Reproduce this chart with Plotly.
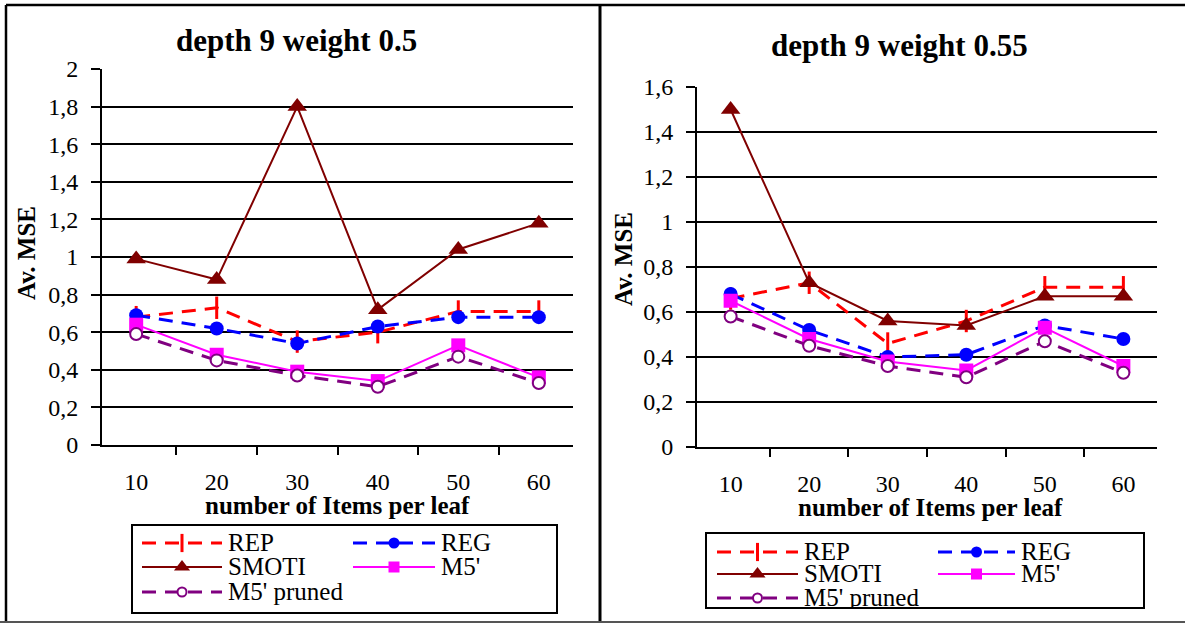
import plotly.graph_objects as go

# Number of items per leaf (x categories)
items = [10, 20, 30, 40, 50, 60]
x_labels = [str(v) for v in items]

series_names = ["REP", "REG", "SMOTI", "M5'", "M5' pruned"]

# depth 9, weight 0.5
rep_050 = [0.68, 0.73, 0.55, 0.60, 0.71, 0.71]
reg_050 = [0.69, 0.62, 0.54, 0.63, 0.68, 0.68]
smoti_050 = [0.99, 0.88, 1.80, 0.72, 1.04, 1.18]
m5_050 = [0.64, 0.48, 0.39, 0.34, 0.53, 0.36]
m5p_050 = [0.59, 0.45, 0.37, 0.31, 0.47, 0.33]

# depth 9, weight 0.55
rep_055 = [0.66, 0.73, 0.46, 0.56, 0.71, 0.71]
reg_055 = [0.68, 0.52, 0.40, 0.41, 0.54, 0.48]
smoti_055 = [1.50, 0.73, 0.56, 0.54, 0.67, 0.67]
m5_055 = [0.65, 0.48, 0.38, 0.34, 0.53, 0.36]
m5p_055 = [0.58, 0.45, 0.36, 0.31, 0.47, 0.33]

panel_titles = ["depth 9 weight 0.5", "depth 9 weight 0.55"]
x_title = "number of Items per leaf"
y_title = "Av. MSE"

W, H = 1185, 623
SERIF = "Liberation Serif, Times New Roman, serif"


def px(x):
    return x / W


def py(y):
    return 1 - y / H


STYLES = {
    "REP": dict(line=dict(color="#FF0000", width=3, dash="14px,9px"),
                marker=dict(symbol="line-ns", size=16, color="#FF0000",
                            line=dict(color="#FF0000", width=3))),
    "REG": dict(line=dict(color="#0000FF", width=3, dash="14px,9px"),
                marker=dict(symbol="circle", size=14, color="#0000FF",
                            line=dict(width=0))),
    "SMOTI": dict(line=dict(color="#800000", width=2),
                  marker=dict(symbol="triangle-up", size=17, color="#800000",
                              line=dict(width=0))),
    "M5'": dict(line=dict(color="#FF00FF", width=2),
                marker=dict(symbol="square", size=14, color="#FF00FF",
                            line=dict(width=0))),
    "M5' pruned": dict(line=dict(color="#800080", width=3, dash="14px,9px"),
                       marker=dict(symbol="circle", size=12, color="white",
                                   line=dict(color="#800080", width=2))),
}

panels = [
    dict(data=[rep_050, reg_050, smoti_050, m5_050, m5p_050],
         x=(102, 573), y=(445, 69), yrange=[0, 2],
         title_xy=(296, 41), ytitle_xy=(27, 253), xtitle_xy=(337, 506),
         legend=dict(box=(132, 557, 525, 613), rows=(543, 567, 592),
                     cols=((142, 222), (353, 435)))),
    dict(data=[rep_055, reg_055, smoti_055, m5_055, m5p_055],
         x=(697, 1157), y=(447, 87), yrange=[0, 1.6],
         title_xy=(899, 45), ytitle_xy=(623, 259), xtitle_xy=(930, 507),
         legend=dict(box=(706, 1144, 533, 608), rows=(552, 574, 598),
                     cols=((717, 798), (938, 1015)))),
]

fig = go.Figure()
annotations = []
shapes = []
layout_axes = {}

for i, p in enumerate(panels):
    xa = "x" if i == 0 else f"x{i + 1}"
    ya = "y" if i == 0 else f"y{i + 1}"
    for name, vals in zip(series_names, p["data"]):
        st = STYLES[name]
        fig.add_trace(go.Scatter(
            x=x_labels, y=vals, name=name, mode="lines+markers",
            line=st["line"], marker=st["marker"], showlegend=False,
            xaxis=xa, yaxis=ya, cliponaxis=False))

    xkey = "xaxis" if i == 0 else f"xaxis{i + 1}"
    ykey = "yaxis" if i == 0 else f"yaxis{i + 1}"
    layout_axes[xkey] = dict(
        domain=[px(p["x"][0]), px(p["x"][1])], anchor=ya,
        type="category", tickson="boundaries", ticks="outside",
        ticklen=8, tickwidth=2, tickcolor="black",
        showline=True, linecolor="black", linewidth=2,
        showgrid=False, zeroline=False, automargin=False,
        tickfont=dict(family=SERIF, size=24, color="black"),
        ticklabelstandoff=14, fixedrange=True)
    layout_axes[ykey] = dict(
        domain=[py(p["y"][0]), py(p["y"][1])], anchor=xa,
        range=p["yrange"], tick0=0, dtick=0.2,
        showgrid=True, gridcolor="black", gridwidth=2,
        ticks="outside", ticklen=9, tickwidth=2, tickcolor="black",
        showline=True, linecolor="black", linewidth=2, zeroline=False,
        automargin=False,
        tickfont=dict(family=SERIF, size=24, color="black"),
        ticklabelstandoff=8, fixedrange=True)

    annotations.append(dict(
        text=f"<b>{panel_titles[i]}</b>", xref="paper", yref="paper",
        x=px(p["title_xy"][0]), y=py(p["title_xy"][1]),
        xanchor="center", yanchor="middle", showarrow=False,
        font=dict(family=SERIF, size=31, color="black")))
    annotations.append(dict(
        text=f"<b>{y_title}</b>", xref="paper", yref="paper",
        x=px(p["ytitle_xy"][0]), y=py(p["ytitle_xy"][1]), textangle=-90,
        xanchor="center", yanchor="middle", showarrow=False,
        font=dict(family=SERIF, size=25, color="black")))
    annotations.append(dict(
        text=f"<b>{x_title}</b>", xref="paper", yref="paper",
        x=px(p["xtitle_xy"][0]), y=py(p["xtitle_xy"][1]),
        xanchor="center", yanchor="middle", showarrow=False,
        font=dict(family=SERIF, size=25, color="black")))

    # Legend key drawn on its own hidden axis pair, in pixel units;
    # its labels are clipped to the legend frame.
    lg = p["legend"]
    lx = f"x{i + 3}"
    ly = f"y{i + 3}"
    x0, x1, y0, y1 = lg["box"]
    layout_axes[f"xaxis{i + 3}"] = dict(
        domain=[px(x0), px(x1)], range=[x0, x1], anchor=ly, visible=False,
        automargin=False, fixedrange=True)
    layout_axes[f"yaxis{i + 3}"] = dict(
        domain=[py(y1), py(y0)], range=[y1, y0], anchor=lx, visible=False,
        automargin=False, fixedrange=True)
    slots = [(0, 0), (0, 1), (1, 0), (1, 1), (2, 0)]
    for name, (r, c) in zip(series_names, slots):
        st = STYLES[name]
        sx0, sx1 = lg["cols"][c]
        yy = lg["rows"][r]
        fig.add_trace(go.Scatter(
            x=[sx0, sx1], y=[yy, yy], mode="lines", line=st["line"],
            showlegend=False, xaxis=lx, yaxis=ly, hoverinfo="skip"))
        mk = dict(st["marker"])
        mk["size"] = max(mk["size"] - 3, 9)
        fig.add_trace(go.Scatter(
            x=[(sx0 + sx1) / 2], y=[yy], mode="markers", marker=mk,
            showlegend=False, xaxis=lx, yaxis=ly, hoverinfo="skip"))
        fig.add_trace(go.Scatter(
            x=[sx1 + 6], y=[yy + 2], mode="text", text=[name],
            textposition="middle right", cliponaxis=True,
            textfont=dict(family=SERIF, size=25, color="black"),
            showlegend=False, xaxis=lx, yaxis=ly, hoverinfo="skip"))
    shapes.append(dict(type="rect", xref=f"{lx} domain", yref=f"{ly} domain",
                       x0=0, x1=1, y0=0, y1=1,
                       line=dict(color="black", width=2)))

# Outer frame of the two panels
frame = [
    ((6, 5), (1185, 5), "black", 2.5),
    ((6, 5), (6, 623), "black", 2.5),
    ((600, 5), (600, 623), "black", 3),
    ((0, 622), (1185, 622), "#555555", 2),
]
for (ax0, ay0), (ax1, ay1), col, wd in frame:
    shapes.append(dict(type="line", xref="paper", yref="paper",
                       x0=px(ax0), y0=py(ay0), x1=px(ax1), y1=py(ay1),
                       line=dict(color=col, width=wd)))

fig.update_layout(
    width=W, height=H,
    margin=dict(l=0, r=0, t=0, b=0, pad=0, autoexpand=False),
    paper_bgcolor="white", plot_bgcolor="white",
    separators=", ", showlegend=False,
    annotations=annotations, shapes=shapes,
    font=dict(family=SERIF, color="black"),
    **layout_axes)

fig.write_html("out.html", config={"displayModeBar": False})
